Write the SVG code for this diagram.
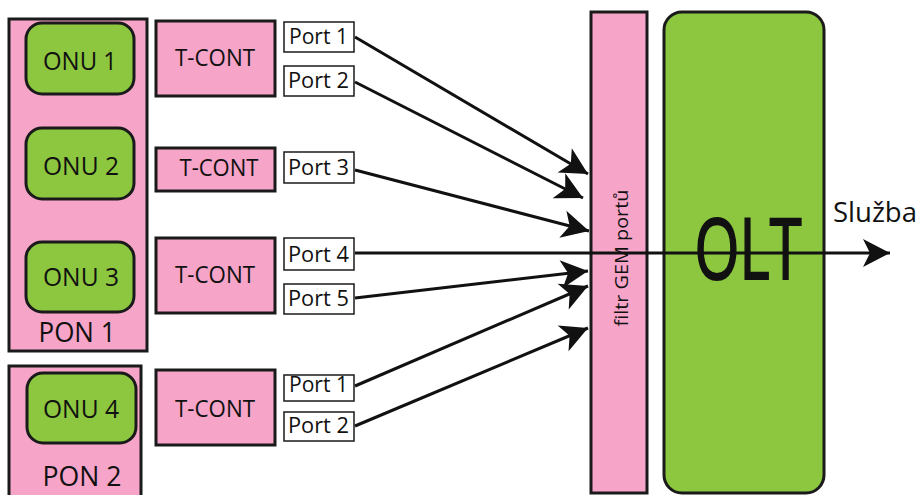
<svg xmlns="http://www.w3.org/2000/svg" width="920" height="495" viewBox="0 0 920 495">
<defs>
<style>
.pink{fill:#F6A4C8;stroke:#1a1a1a;stroke-width:3}
.green{fill:#8DC63F;stroke:#1a1a1a;stroke-width:3}
.port{fill:#ffffff;stroke:#1a1a1a;stroke-width:1.5}
text{font-family:"Open Sans","Liberation Sans",sans-serif;fill:#111;text-anchor:middle}
.onu{font-size:26px}
.tc{font-size:24px}
.pt{font-size:22px}
.pon{font-size:27px}
.conn{stroke:#111;stroke-width:3;fill:none}
</style>
<marker id="arr" markerUnits="userSpaceOnUse" markerWidth="30" markerHeight="32" viewBox="-28 -15 30 30" refX="0" refY="0" orient="auto">
<path d="M0,0 L-27,-14 L-20,0 L-27,14 Z" fill="#111"/>
</marker>
</defs>
<rect width="920" height="495" fill="#ffffff"/>

<g id="pon1">
<rect class="pink" x="9" y="19" width="138" height="332"/>
<text class="pon" x="77" y="342" textLength="77" lengthAdjust="spacingAndGlyphs">PON 1</text>
</g>
<g id="pon2">
<rect class="pink" x="9" y="366" width="132" height="140"/>
<text class="pon" x="82" y="486" textLength="79" lengthAdjust="spacingAndGlyphs">PON 2</text>
</g>

<g id="onu1"><rect class="green" x="26" y="23" width="108" height="71" rx="16"/><text class="onu" x="80" y="70" textLength="74" lengthAdjust="spacingAndGlyphs">ONU 1</text></g>
<g id="onu2"><rect class="green" x="26" y="128" width="108" height="71" rx="16"/><text class="onu" x="81" y="175" textLength="76" lengthAdjust="spacingAndGlyphs">ONU 2</text></g>
<g id="onu3"><rect class="green" x="26" y="242" width="108" height="70" rx="16"/><text class="onu" x="81" y="286" textLength="76" lengthAdjust="spacingAndGlyphs">ONU 3</text></g>
<g id="onu4"><rect class="green" x="27" y="373" width="109" height="70" rx="16"/><text class="onu" x="81" y="418" textLength="76" lengthAdjust="spacingAndGlyphs">ONU 4</text></g>

<g id="tcont1"><rect class="pink" x="156" y="21" width="119" height="75"/><text class="tc" x="215" y="66" textLength="80" lengthAdjust="spacingAndGlyphs">T-CONT</text></g>
<g id="tcont2"><rect class="pink" x="156" y="148" width="119" height="43"/><text class="tc" x="219" y="176" textLength="79" lengthAdjust="spacingAndGlyphs">T-CONT</text></g>
<g id="tcont3"><rect class="pink" x="156" y="238" width="119" height="75"/><text class="tc" x="215" y="283" textLength="80" lengthAdjust="spacingAndGlyphs">T-CONT</text></g>
<g id="tcont4"><rect class="pink" x="156" y="370" width="119" height="75"/><text class="tc" x="215" y="417" textLength="80" lengthAdjust="spacingAndGlyphs">T-CONT</text></g>

<g id="port1a"><rect class="port" x="284" y="22" width="70" height="30"/><text class="pt" x="318.5" y="44" textLength="59" lengthAdjust="spacingAndGlyphs">Port 1</text></g>
<g id="port2a"><rect class="port" x="284" y="66" width="70" height="30"/><text class="pt" x="318.5" y="88" textLength="61" lengthAdjust="spacingAndGlyphs">Port 2</text></g>
<g id="port3"><rect class="port" x="284" y="152" width="70" height="31"/><text class="pt" x="318.5" y="175" textLength="61" lengthAdjust="spacingAndGlyphs">Port 3</text></g>
<g id="port4"><rect class="port" x="284" y="238" width="70" height="32"/><text class="pt" x="318.5" y="262" textLength="61" lengthAdjust="spacingAndGlyphs">Port 4</text></g>
<g id="port5"><rect class="port" x="284" y="284" width="70" height="30"/><text class="pt" x="318.5" y="306" textLength="61" lengthAdjust="spacingAndGlyphs">Port 5</text></g>
<g id="port1b"><rect class="port" x="284" y="375" width="70" height="26"/><text class="pt" x="318.5" y="392" textLength="59" lengthAdjust="spacingAndGlyphs">Port 1</text></g>
<g id="port2b"><rect class="port" x="284" y="412" width="70" height="29"/><text class="pt" x="318.5" y="433" textLength="61" lengthAdjust="spacingAndGlyphs">Port 2</text></g>

<g id="filter">
<rect class="pink" x="591" y="12" width="56" height="481"/>
<text x="628" y="258" font-size="19" transform="rotate(-90 628 258)" textLength="137" lengthAdjust="spacingAndGlyphs">filtr GEM portů</text>
</g>

<g id="olt">
<rect class="green" x="664" y="12" width="160" height="481" rx="18"/>
<text x="1100" y="279" font-size="85" transform="scale(0.68 1)" stroke="#111" stroke-width="2">OLT</text>
</g>

<g id="connectors">
<line class="conn" x1="355" y1="37" x2="588" y2="174" marker-end="url(#arr)"/>
<line class="conn" x1="355" y1="82" x2="583" y2="198" marker-end="url(#arr)"/>
<line class="conn" x1="355" y1="170" x2="589" y2="231" marker-end="url(#arr)"/>
<line class="conn" x1="355" y1="253" x2="890" y2="253" marker-end="url(#arr)"/>
<line class="conn" x1="355" y1="298" x2="588" y2="271" marker-end="url(#arr)"/>
<line class="conn" x1="355" y1="386" x2="588" y2="286" marker-end="url(#arr)"/>
<line class="conn" x1="355" y1="426" x2="588" y2="328" marker-end="url(#arr)"/>
</g>

<text x="875" y="222" font-size="27" textLength="84" lengthAdjust="spacingAndGlyphs">Služba</text>
</svg>
